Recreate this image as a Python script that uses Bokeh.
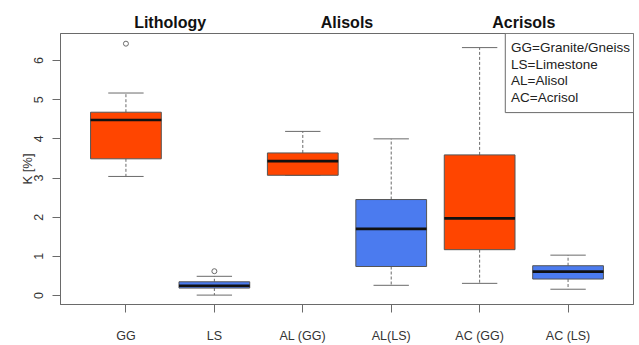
import numpy as np
from bokeh.plotting import figure
from bokeh.models import Range1d, FixedTicker, Label, BoxAnnotation, LinearAxis
from bokeh.embed import file_html
from bokeh.resources import INLINE

# ---- data ----
categories = ["GG", "LS", "AL (GG)", "AL(LS)", "AC (GG)", "AC (LS)"]
lower_whisker = [3.04, 0.01, 3.07, 0.26, 0.31, 0.16]
q1 = [3.49, 0.19, 3.07, 0.74, 1.17, 0.42]
median = [4.48, 0.25, 3.43, 1.70, 1.97, 0.61]
q3 = [4.68, 0.35, 3.64, 2.45, 3.59, 0.76]
upper_whisker = [5.17, 0.49, 4.19, 4.00, 6.33, 1.03]
outlier_cat = ["GG", "LS"]
outlier_val = [6.43, 0.62]
box_colors = ["#FF4500", "#4B7BEF", "#FF4500", "#4B7BEF", "#FF4500", "#4B7BEF"]
group_titles = ["Lithology", "Alisols", "Acrisols"]
legend_lines = ["GG=Granite/Gneiss", "LS=Limestone", "AL=Alisol", "AC=Acrisol"]
y_label = "K [%]"
y_ticks = [0, 1, 2, 3, 4, 5, 6]

FONT = "Liberation Sans"
GRAY = "#6a6a6a"

xs = np.arange(1, len(categories) + 1)
pos = {c: x for c, x in zip(categories, xs)}
X0, X1 = 0.26, 6.74
Y0, Y1 = -0.23, 6.69

p = figure(width=639, height=345, output_backend="svg", toolbar_location=None,
           x_range=Range1d(X0, X1), y_range=Range1d(Y0, Y1),
           min_border_left=60, min_border_right=6, min_border_top=33, min_border_bottom=34)
p.xgrid.visible = False
p.ygrid.visible = False
p.background_fill_color = "white"
p.border_fill_color = "white"
p.outline_line_color = GRAY
p.outline_line_width = 1

# whiskers
p.segment(x0=xs, y0=q3, x1=xs, y1=upper_whisker, line_color=GRAY, line_dash="3 2", line_width=1)
p.segment(x0=xs, y0=q1, x1=xs, y1=lower_whisker, line_color=GRAY, line_dash="3 2", line_width=1)
# caps
p.segment(x0=xs - 0.2, y0=upper_whisker, x1=xs + 0.2, y1=upper_whisker, line_color=GRAY, line_width=1)
p.segment(x0=xs - 0.2, y0=lower_whisker, x1=xs + 0.2, y1=lower_whisker, line_color=GRAY, line_width=1)
# boxes
p.vbar(x=xs, width=0.8, bottom=q1, top=q3, fill_color=box_colors, line_color="#555555", line_width=1)
# medians
p.segment(x0=xs - 0.4, y0=median, x1=xs + 0.4, y1=median, line_color="#111111", line_width=2.6)
# outliers
p.scatter(x=[pos[c] for c in outlier_cat], y=outlier_val, marker="circle", size=5,
          fill_color=None, line_color=GRAY, line_width=1)

# axes
p.xaxis.ticker = FixedTicker(ticks=list(xs))
p.xaxis.major_label_overrides = {int(x): c for x, c in zip(xs, categories)}
p.yaxis.ticker = FixedTicker(ticks=y_ticks)
p.yaxis.major_label_orientation = "vertical"
p.yaxis.axis_label = y_label
for ax in (p.xaxis[0], p.yaxis[0]):
    ax.axis_line_color = GRAY
    ax.major_tick_line_color = GRAY
    ax.minor_tick_line_color = None
    ax.major_tick_out = 8
    ax.major_tick_in = 0
    ax.major_label_text_font = FONT
    ax.major_label_text_font_size = "12.5px"
    ax.major_label_text_color = "#333333"
p.xaxis.major_label_standoff = 16
p.yaxis.major_label_standoff = 9
p.yaxis.axis_label_text_font = FONT
p.yaxis.axis_label_text_font_size = "13px"
p.yaxis.axis_label_text_font_style = "normal"
p.yaxis.axis_label_text_color = "#333333"
p.yaxis.axis_label_standoff = -3

# group titles on a top axis, centred between the two boxes of each group
title_pos = [(xs[2 * i] + xs[2 * i + 1]) / 2 for i in range(len(group_titles))]
top_axis = LinearAxis(ticker=FixedTicker(ticks=title_pos),
                      major_label_overrides={tp: t for tp, t in zip(title_pos, group_titles)},
                      axis_line_color=None, major_tick_line_color=None, minor_tick_line_color=None,
                      major_tick_out=0, major_tick_in=0, major_label_standoff=3,
                      major_label_text_font=FONT, major_label_text_font_size="16px",
                      major_label_text_font_style="bold", major_label_text_color="#111111")
p.add_layout(top_axis, "above")

# legend-like text box in top-right corner
p.add_layout(BoxAnnotation(left=5.29, right=X1, bottom=4.67, top=Y1, fill_color="white",
                           fill_alpha=1.0, line_color=GRAY, line_width=1, line_alpha=1.0))
p.add_layout(Label(x=5.355, y=6.52, text="\n".join(legend_lines), text_align="left",
                   text_baseline="top", text_font=FONT, text_font_size="13.5px",
                   text_line_height=1.1, text_color="#222222"))

open("out.html", "w").write(file_html(p, INLINE))
